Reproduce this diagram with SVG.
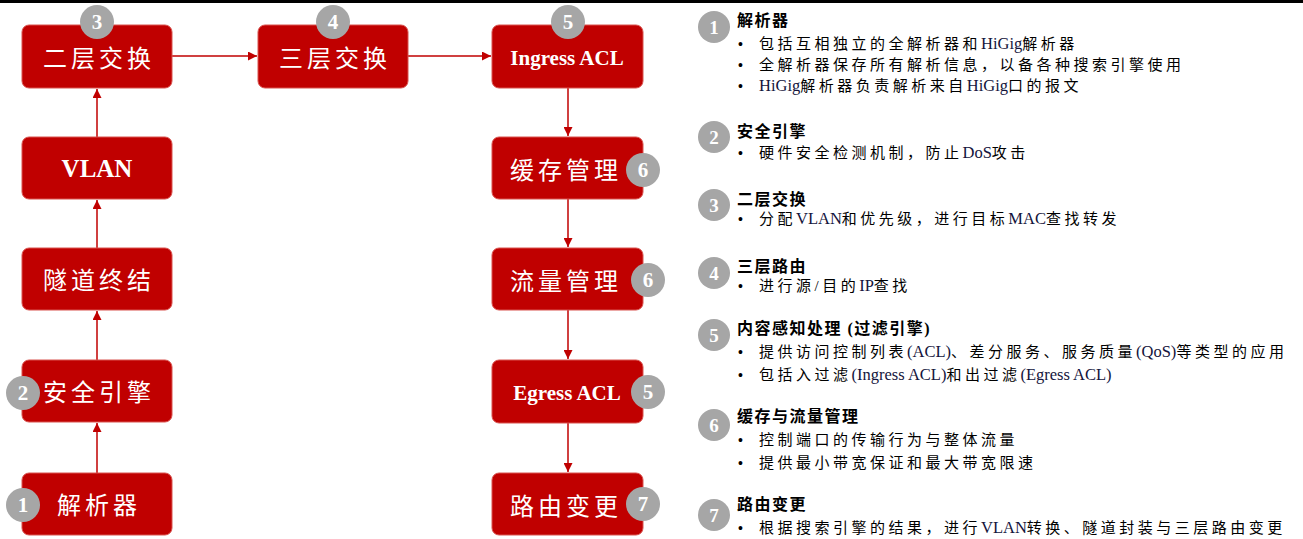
<svg xmlns="http://www.w3.org/2000/svg" width="1303" height="539" viewBox="0 0 1303 539">
<defs>
<marker id="ah" viewBox="0 0 10 10" refX="10" refY="5" markerWidth="9" markerHeight="9" markerUnits="userSpaceOnUse" orient="auto">
<path d="M0,0 L10,5 L0,10 z" fill="#C00000"/>
</marker>
</defs>
<style>
.box{fill:#C00000;stroke:#D9534F;stroke-width:1}
.bt{fill:#fff;font-family:"Liberation Serif","Noto Sans CJK SC",serif;font-size:24px;text-anchor:middle;letter-spacing:4px}
.bl{fill:#fff;font-family:"Liberation Serif","Noto Sans CJK SC",serif;font-weight:bold;text-anchor:middle}
.badge{fill:#A6A6A6}
.bn{fill:#fff;font-family:"Liberation Serif",serif;font-weight:bold;font-size:21px;text-anchor:middle}
.ln{fill:none;stroke:#C00000;stroke-width:1.5;marker-end:url(#ah)}
.t{font-family:"Liberation Serif","Noto Sans CJK SC",serif;font-size:15px;fill:#000;letter-spacing:3.5px}
.l{letter-spacing:0;fill:#14143c;font-size:16.5px}
.bu{font-family:"Liberation Sans",sans-serif;font-size:14px;fill:#000}
.h{font-family:"Liberation Serif","Noto Sans CJK SC",serif;font-size:16px;font-weight:bold;fill:#000;letter-spacing:1.5px}
.lb{fill:#A6A6A6}
.ln2{fill:#fff;font-family:"Liberation Serif",serif;font-weight:bold;font-size:19px;text-anchor:middle}
</style>
<rect x="0" y="0" width="1303" height="539" fill="#fff"/>
<rect x="0" y="0" width="1303" height="3" fill="#000"/>

<g id="connectors">
<path class="ln" d="M97,137 V89"/>
<path class="ln" d="M97,248 V200"/>
<path class="ln" d="M97,360 V311"/>
<path class="ln" d="M97,473 V423"/>
<path class="ln" d="M172,56 H257"/>
<path class="ln" d="M408,56 H491"/>
<path class="ln" d="M568,88 V136"/>
<path class="ln" d="M568,199 V247"/>
<path class="ln" d="M568,310 V359"/>
<path class="ln" d="M568,423 V472"/>
</g>

<g id="n-l2">
<rect class="box" x="22" y="25" width="150" height="63" rx="7"/>
<text class="bt" x="99" y="67">二层交换</text>
<circle class="badge" cx="97" cy="22" r="17"/>
<text class="bn" x="97" y="29">3</text>
</g>
<g id="n-vlan">
<rect class="box" x="22" y="137" width="150" height="62" rx="7"/>
<text class="bl" x="97" y="177" font-size="25">VLAN</text>
</g>
<g id="n-tunnel">
<rect class="box" x="22" y="248" width="150" height="62" rx="7"/>
<text class="bt" x="99" y="289">隧道终结</text>
</g>
<g id="n-sec">
<rect class="box" x="22" y="360" width="150" height="62" rx="7"/>
<text class="bt" x="99" y="401">安全引擎</text>
<circle class="badge" cx="23" cy="393" r="17"/>
<text class="bn" x="23" y="400">2</text>
</g>
<g id="n-parser">
<rect class="box" x="22" y="473" width="150" height="62" rx="7"/>
<text class="bt" x="99" y="514">解析器</text>
<circle class="badge" cx="23" cy="505" r="17"/>
<text class="bn" x="23" y="512">1</text>
</g>
<g id="n-l3">
<rect class="box" x="258" y="25" width="150" height="63" rx="7"/>
<text class="bt" x="335" y="67">三层交换</text>
<circle class="badge" cx="333" cy="22" r="17"/>
<text class="bn" x="333" y="29">4</text>
</g>
<g id="n-iacl">
<rect class="box" x="492" y="25" width="151" height="63" rx="7"/>
<text class="bl" x="567" y="65" font-size="21">Ingress ACL</text>
<circle class="badge" cx="568" cy="22" r="17"/>
<text class="bn" x="568" y="29">5</text>
</g>
<g id="n-buf">
<rect class="box" x="492" y="137" width="151" height="62" rx="7"/>
<text class="bt" x="566" y="179">缓存管理</text>
<circle class="badge" cx="643" cy="170" r="17"/>
<text class="bn" x="643" y="177">6</text>
</g>
<g id="n-flow">
<rect class="box" x="492" y="248" width="151" height="62" rx="7"/>
<text class="bt" x="566" y="290">流量管理</text>
<circle class="badge" cx="648" cy="280" r="17"/>
<text class="bn" x="648" y="287">6</text>
</g>
<g id="n-eacl">
<rect class="box" x="492" y="360" width="151" height="63" rx="7"/>
<text class="bl" x="567" y="400" font-size="21">Egress ACL</text>
<circle class="badge" cx="648" cy="392" r="17"/>
<text class="bn" x="648" y="399">5</text>
</g>
<g id="n-route">
<rect class="box" x="492" y="473" width="151" height="62" rx="7"/>
<text class="bt" x="566" y="515">路由变更</text>
<circle class="badge" cx="643" cy="504" r="17"/>
<text class="bn" x="643" y="511">7</text>
</g>

<g id="legend-1">
<circle class="lb" cx="714" cy="27" r="16"/><text class="ln2" x="714" y="34">1</text>
<text class="h" x="737" y="26">解析器</text>
<text class="bu" x="738" y="49">•</text><text class="t" x="759" y="49">包括互相独立的全解析器和<tspan class="l">HiGig</tspan>解析器</text>
<text class="bu" x="738" y="70">•</text><text class="t" x="759" y="70">全解析器保存所有解析信息，以备各种搜索引擎使用</text>
<text class="bu" x="738" y="91">•</text><text class="t" x="759" y="91"><tspan class="l">HiGig</tspan>解析器负责解析来自<tspan class="l">HiGig</tspan>口的报文</text>
</g>
<g id="legend-2">
<circle class="lb" cx="714" cy="137" r="16"/><text class="ln2" x="714" y="144">2</text>
<text class="h" x="737" y="137">安全引擎</text>
<text class="bu" x="738" y="158">•</text><text class="t" x="759" y="158">硬件安全检测机制，防止<tspan class="l">DoS</tspan>攻击</text>
</g>
<g id="legend-3">
<circle class="lb" cx="714" cy="205" r="16"/><text class="ln2" x="714" y="212">3</text>
<text class="h" x="737" y="205">二层交换</text>
<text class="bu" x="738" y="224">•</text><text class="t" x="759" y="224">分配<tspan class="l">VLAN</tspan>和优先级，进行目标<tspan class="l">MAC</tspan>查找转发</text>
</g>
<g id="legend-4">
<circle class="lb" cx="714" cy="273" r="16"/><text class="ln2" x="714" y="280">4</text>
<text class="h" x="737" y="272">三层路由</text>
<text class="bu" x="738" y="291">•</text><text class="t" x="759" y="291">进行源/目的<tspan class="l">IP</tspan>查找</text>
</g>
<g id="legend-5">
<circle class="lb" cx="714" cy="335" r="16"/><text class="ln2" x="714" y="342">5</text>
<text class="h" x="737" y="334">内容感知处理 (过滤引擎)</text>
<text class="bu" x="738" y="357">•</text><text class="t" x="759" y="357">提供访问控制列表<tspan class="l">(ACL)</tspan>、差分服务、服务质量<tspan class="l">(QoS)</tspan>等类型的应用</text>
<text class="bu" x="738" y="380">•</text><text class="t" x="759" y="380">包括入过滤<tspan class="l">(Ingress ACL)</tspan>和出过滤<tspan class="l">(Egress ACL)</tspan></text>
</g>
<g id="legend-6">
<circle class="lb" cx="714" cy="425" r="16"/><text class="ln2" x="714" y="432">6</text>
<text class="h" x="737" y="422">缓存与流量管理</text>
<text class="bu" x="738" y="445">•</text><text class="t" x="759" y="445">控制端口的传输行为与整体流量</text>
<text class="bu" x="738" y="468">•</text><text class="t" x="759" y="468">提供最小带宽保证和最大带宽限速</text>
</g>
<g id="legend-7">
<circle class="lb" cx="714" cy="515" r="16"/><text class="ln2" x="714" y="522">7</text>
<text class="h" x="737" y="510">路由变更</text>
<text class="bu" x="738" y="533">•</text><text class="t" x="759" y="533">根据搜索引擎的结果，进行<tspan class="l">VLAN</tspan>转换、隧道封装与三层路由变更</text>
</g>
</svg>
